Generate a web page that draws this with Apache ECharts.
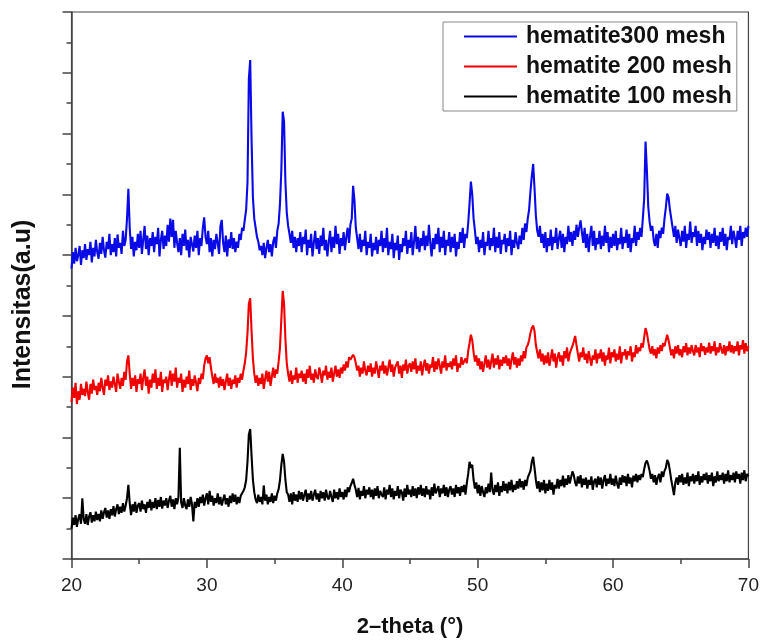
<!DOCTYPE html>
<html>
<head>
<meta charset="utf-8">
<script src="https://cdn.jsdelivr.net/npm/echarts@6/dist/echarts.min.js"></script>
<style>
html,body{margin:0;padding:0;background:#fff;overflow:hidden;}
#chart{position:absolute;left:0;top:0;width:762px;height:643px;}
</style>
</head>
<body>
<div id="chart"></div>
<script>
// Scan grid: 2-theta from 20 to 70 in steps of 0.1 degrees (one row = 1 degree)
const scanStart = 20;
const scanStep = 0.1;

const seriesNames = ['hematite300 mesh', 'hematite 200 mesh', 'hematite 100 mesh'];
const xTicks = [20, 30, 40, 50, 60, 70];

// hematite 300 mesh (blue)
const mesh300 = [
  478, 505, 486, 512, 490, 500, 515, 484, 508, 495,
  518, 492, 510, 500, 522, 488, 512, 498, 525, 505,
  494, 520, 502, 530, 508, 496, 522, 510, 535, 500,
  518, 505, 528, 498, 534, 512, 520, 502, 540, 515,
  525, 560, 609, 545, 510, 530, 498, 522, 508, 535,
  512, 540, 502, 526, 548, 510, 532, 500, 528, 515,
  538, 505, 530, 518, 545, 498, 525, 540, 510, 532,
  515, 550, 522, 560, 530, 558, 512, 540, 520, 505,
  528, 500, 535, 515, 542, 508, 525, 496, 530, 518,
  506, 532, 512, 540, 500, 528, 515, 545, 562, 530,
  518, 540, 505, 528, 498, 525, 510, 535, 520, 502,
  548, 558, 520, 505, 532, 498, 526, 512, 538, 510,
  528, 505, 522, 512, 535, 525, 545, 540, 558, 575,
  620, 790, 821, 690, 595, 560, 545, 530, 522, 508,
  515, 500, 520, 495, 512, 525, 505, 518, 498, 522,
  530, 512, 540, 552, 585, 640, 736, 720, 620, 570,
  548, 535, 520, 540, 512, 530, 505, 528, 515, 538,
  505, 530, 518, 542, 500, 525, 512, 535, 498, 520,
  540, 510, 528, 502, 532, 515, 545, 508, 525, 498,
  522, 540, 505, 530, 512, 548, 518, 535, 502, 528,
  515, 538, 508, 530, 545, 520, 550, 560, 614, 590,
  545, 528, 510, 535, 505, 525, 515, 540, 500, 522,
  512, 535, 498, 520, 508, 530, 502, 525, 515, 540,
  505, 528, 512, 545, 500, 522, 510, 535, 495, 520,
  508, 532, 492, 518, 505, 528, 515, 540, 502, 525,
  512, 538, 500, 522, 548, 510, 530, 505, 528, 515,
  540, 508, 532, 515, 550, 520, 498, 528, 510, 535,
  518, 545, 505, 530, 512, 540, 500, 525, 515, 538,
  505, 530, 512, 535, 498, 522, 510, 538, 520, 545,
  512, 535, 528, 552, 585, 621, 600, 560, 540, 518,
  530, 505, 525, 512, 538, 500, 522, 515, 540, 508,
  528, 515, 545, 505, 530, 512, 538, 502, 525, 518,
  535, 505, 528, 515, 540, 500, 525, 512, 538, 520,
  510, 532, 518, 545, 525, 552, 538, 560, 575, 605,
  630, 650, 610, 565, 540, 530, 548, 520, 535, 512,
  538, 505, 528, 515, 542, 508, 530, 520, 545, 510,
  528, 540, 512, 535, 505, 530, 518, 548, 522, 538,
  515, 540, 525, 550, 530, 545, 557, 538, 520, 545,
  512, 535, 505, 530, 548, 515, 540, 508, 528, 518,
  540, 510, 532, 515, 548, 520, 538, 505, 530, 512,
  535, 515, 540, 508, 528, 518, 545, 510, 530, 520,
  542, 512, 535, 505, 528, 520, 548, 515, 538, 525,
  545, 530, 560, 593, 687, 640, 580, 555, 540, 548,
  525, 515, 535, 512, 540, 528, 545, 535, 560, 578,
  601, 595, 575, 560, 545, 530, 548, 520, 542, 528,
  515, 540, 522, 548, 512, 535, 525, 555, 520, 538,
  530, 548, 515, 540, 520, 535, 508, 530, 518, 542,
  525, 538, 512, 535, 520, 545, 515, 532, 510, 538,
  522, 545, 515, 535, 508, 530, 525, 548, 518, 540,
  528, 512, 540, 525, 548, 515, 538, 528, 545, 530,
  548
];

// hematite 200 mesh (red)
const mesh200 = [
  258, 282, 265, 290, 255, 276, 262, 288, 270, 280,
  268, 292, 275, 262, 288, 272, 295, 278, 285, 270,
  290, 276, 298, 282, 270, 295, 285, 302, 278, 292,
  282, 300, 288, 275, 305, 292, 280, 298, 285, 308,
  295, 325, 335, 305, 280, 298, 285, 302, 275, 296,
  288, 305, 278, 298, 312, 285, 300, 272, 295, 282,
  305, 290, 312, 280, 298, 285, 308, 275, 295, 290,
  300, 278, 296, 310, 285, 305, 292, 315, 282, 298,
  290, 305, 275, 295, 282, 300, 288, 310, 278, 296,
  285, 302, 290, 276, 298, 288, 305, 296, 318, 330,
  335, 322, 332, 315, 300, 288, 305, 290, 298, 282,
  300, 285, 296, 278, 292, 305, 285, 298, 280, 295,
  288, 302, 282, 298, 290, 305, 295, 310, 322, 340,
  372, 420, 429, 375, 330, 305, 290, 302, 285, 298,
  288, 305, 280, 296, 310, 292, 308, 285, 300, 315,
  298, 312, 305, 325, 348, 395, 441, 420, 362, 322,
  305, 292, 310, 288, 302, 295, 315, 290, 305, 298,
  310, 292, 305, 288, 312, 298, 318, 295, 305, 290,
  312, 300, 296, 315, 305, 290, 310, 302, 318, 295,
  308, 298, 315, 292, 305, 318, 300, 312, 298, 315,
  305, 320, 310, 325, 315, 332, 328, 330, 336, 332,
  322, 310, 318, 300, 315, 305, 325, 310, 302, 318,
  308, 322, 300, 315, 305, 325, 312, 298, 318, 310,
  325, 305, 318, 302, 315, 328, 308, 320, 300, 315,
  312, 325, 305, 318, 298, 320, 310, 328, 305, 318,
  322, 308, 325, 312, 330, 305, 318, 310, 325, 302,
  318, 328, 310, 322, 305, 320, 315, 332, 308, 325,
  312, 330, 318, 305, 325, 315, 335, 310, 322, 316,
  325, 312, 330, 318, 335, 308, 322, 315, 332, 320,
  318, 330, 322, 342, 355, 369, 360, 340, 325, 335,
  318, 330, 312, 325, 308, 322, 335, 315, 328, 312,
  325, 338, 315, 330, 320, 335, 312, 328, 318, 332,
  322, 335, 318, 330, 312, 328, 340, 320, 332, 315,
  330, 318, 335, 325, 342, 330, 348, 352, 360, 372,
  380, 384, 375, 352, 340, 330, 345, 325, 338, 320,
  335, 322, 340, 318, 330, 345, 325, 338, 315, 332,
  340, 325, 335, 318, 342, 330, 348, 325, 338, 345,
  350, 358, 367, 352, 338, 325, 340, 332, 348, 328,
  338, 322, 342, 330, 318, 335, 328, 345, 322, 338,
  330, 345, 325, 340, 318, 335, 328, 348, 322, 340,
  332, 345, 325, 338, 328, 350, 322, 340, 335, 345,
  328, 342, 335, 350, 325, 340, 332, 352, 338, 348,
  342, 355, 348, 365, 380, 372, 358, 345, 338, 350,
  335, 345, 330, 348, 338, 352, 342, 355, 350, 360,
  369, 360, 348, 335, 345, 330, 350, 338, 352, 335,
  345, 332, 350, 340, 355, 335, 348, 338, 352, 342,
  335, 352, 340, 348, 332, 355, 342, 350, 336, 348,
  340, 356, 338, 350, 342, 358, 335, 348, 340, 355,
  345, 338, 352, 335, 350, 342, 358, 340, 352, 338,
  350, 342, 358, 335, 352, 345, 360, 338, 355, 342,
  350
];

// hematite 100 mesh (black)
const mesh100 = [
  50, 68, 56, 72, 53, 66, 74, 58, 100, 65,
  58, 74, 56, 70, 77, 60, 72, 62, 78, 64,
  74, 62, 80, 66, 77, 84, 68, 80, 66, 82,
  72, 87, 70, 82, 90, 74, 86, 76, 92, 78,
  88, 100, 122, 92, 72, 90, 78, 94, 76, 88,
  92, 78, 96, 82, 90, 76, 94, 84, 98, 80,
  94, 84, 100, 82, 97, 86, 102, 83, 96, 88,
  100, 84, 96, 104, 86, 98, 82, 100, 90, 102,
  183, 93, 84, 100, 88, 82, 98, 86, 102, 90,
  62, 94, 84, 100, 86, 102, 92, 106, 88, 100,
  108, 90, 112, 94, 104, 88, 100, 92, 108, 90,
  102, 88, 98, 106, 90, 100, 86, 104, 92, 108,
  94, 106, 90, 102, 92, 104, 108, 112, 118, 130,
  160, 205, 214, 170, 130, 110, 98, 92, 106, 94,
  102, 90, 121, 96, 106, 90, 102, 94, 108, 92,
  104, 96, 108, 115, 130, 155, 173, 160, 130, 110,
  106, 94, 108, 90, 110, 96, 106, 94, 112, 98,
  110, 96, 106, 114, 94, 108, 98, 112, 96, 106,
  114, 98, 108, 94, 112, 100, 110, 96, 114, 102,
  98, 112, 102, 94, 114, 100, 110, 98, 116, 102,
  110, 98, 114, 102, 118, 110, 120, 125, 132, 122,
  114, 102, 117, 98, 112, 104, 120, 100, 114, 106,
  118, 102, 114, 98, 116, 104, 120, 100, 112, 106,
  102, 118, 98, 114, 106, 122, 102, 116, 98, 112,
  104, 120, 100, 114, 110, 96, 116, 102, 122, 106,
  114, 102, 120, 104, 116, 100, 118, 106, 122, 104,
  116, 102, 120, 106, 114, 98, 118, 104, 124, 108,
  106, 120, 102, 116, 108, 122, 104, 118, 102, 114,
  120, 106, 116, 102, 122, 108, 118, 104, 120, 110,
  122, 106, 125, 140, 160, 150, 155, 130, 116, 126,
  108, 122, 104, 120, 110, 102, 118, 108, 124, 110,
  142, 113, 106, 122, 110, 126, 104, 120, 110, 128,
  112, 124, 108, 127, 113, 130, 110, 122, 114, 128,
  116, 132, 118, 128, 114, 130, 120, 134, 135, 145,
  160, 168, 150, 130, 116, 128, 110, 126, 113, 130,
  108, 124, 112, 130, 114, 126, 106, 122, 116, 132,
  116, 130, 120, 137, 118, 132, 122, 138, 124, 134,
  144, 138, 126, 120, 136, 124, 138, 118, 132, 122,
  134, 116, 130, 122, 136, 114, 128, 132, 118, 136,
  122, 134, 116, 130, 138, 120, 132, 124, 140, 122,
  132, 120, 137, 124, 116, 134, 122, 138, 126, 136,
  120, 140, 124, 134, 118, 137, 128, 140, 126, 138,
  130, 140, 135, 148, 158, 162, 155, 145, 132, 140,
  126, 138, 122, 134, 140, 126, 144, 135, 145, 150,
  163, 158, 145, 130, 118, 105, 126, 134, 122, 138,
  126, 140, 122, 134, 124, 142, 120, 136, 128, 140,
  124, 138, 128, 144, 122, 136, 126, 140, 130, 142,
  124, 138, 128, 142, 120, 136, 126, 144, 128, 138,
  130, 142, 124, 140, 128, 146, 126, 138, 130, 142,
  126, 144, 132, 140, 124, 142, 130, 146, 128, 140,
  136
];

const colors = ['#0a0ae6', '#f00000', '#000000'];

function toPairs(ys) {
  return ys.map((v, i) => [Math.round((scanStart + i * scanStep) * 10) / 10, v]);
}

const chart = echarts.init(document.getElementById('chart'), null, {renderer: 'canvas'});
const axisColor = '#444';
const font = 'Liberation Sans, Arial, sans-serif';
const lineW = 2.1;

chart.setOption({
  animation: false,
  backgroundColor: '#ffffff',
  grid: {
    left: 71.5, width: 677.5, top: 12, height: 551,
    show: true, borderColor: axisColor, borderWidth: 1.2, backgroundColor: 'transparent'
  },
  legend: {
    left: 443, top: 22,
    orient: 'vertical',
    data: seriesNames,
    itemWidth: 53, itemHeight: 14, itemGap: 7,
    padding: [3, 5, 3, 21],
    borderColor: '#888', borderWidth: 1,
    textStyle: {fontFamily: font, fontWeight: 'bold', fontSize: 23, color: '#111', lineHeight: 23, padding: [0, 0, 0, 4]},
    icon: 'path://M0,6 L53,6 L53,8 L0,8 Z'
  },
  xAxis: {
    type: 'value', min: 20, max: 70, interval: 10,
    name: '2\u2013theta (\u00B0)',
    nameLocation: 'middle', nameGap: 57,
    nameTextStyle: {fontFamily: font, fontWeight: 'bold', fontSize: 22, color: '#111'},
    axisLine: {show: true, lineStyle: {color: axisColor, width: 1.5}},
    axisTick: {show: true, inside: false, length: 9, lineStyle: {color: axisColor, width: 1.5}},
    minorTick: {show: true, splitNumber: 2, length: 5, lineStyle: {color: axisColor, width: 1.5}},
    axisLabel: {
      fontFamily: font, fontSize: 19, color: '#222', margin: 17,
      formatter: v => (xTicks.indexOf(v) >= 0 ? String(v) : '')
    },
    splitLine: {show: false}
  },
  yAxis: {
    type: 'value', min: 0, max: 900, interval: 100,
    name: 'Intensitas(a.u)',
    nameLocation: 'middle', nameGap: 36,
    nameTextStyle: {fontFamily: font, fontWeight: 'bold', fontSize: 25, color: '#111', padding: [0, 38, 0, 0]},
    axisLine: {show: true, lineStyle: {color: axisColor, width: 1.5}},
    axisTick: {show: true, inside: false, length: 9, lineStyle: {color: axisColor, width: 1.5}},
    minorTick: {show: true, splitNumber: 2, length: 5, lineStyle: {color: axisColor, width: 1.5}},
    axisLabel: {show: false},
    splitLine: {show: false}
  },
  series: [
    {name: seriesNames[0], type: 'line', data: toPairs(mesh300), symbol: 'none', lineStyle: {color: colors[0], width: lineW}, itemStyle: {color: colors[0]}},
    {name: seriesNames[1], type: 'line', data: toPairs(mesh200), symbol: 'none', lineStyle: {color: colors[1], width: lineW}, itemStyle: {color: colors[1]}},
    {name: seriesNames[2], type: 'line', data: toPairs(mesh100), symbol: 'none', lineStyle: {color: colors[2], width: lineW}, itemStyle: {color: colors[2]}}
  ]
});
</script>
</body>
</html>
